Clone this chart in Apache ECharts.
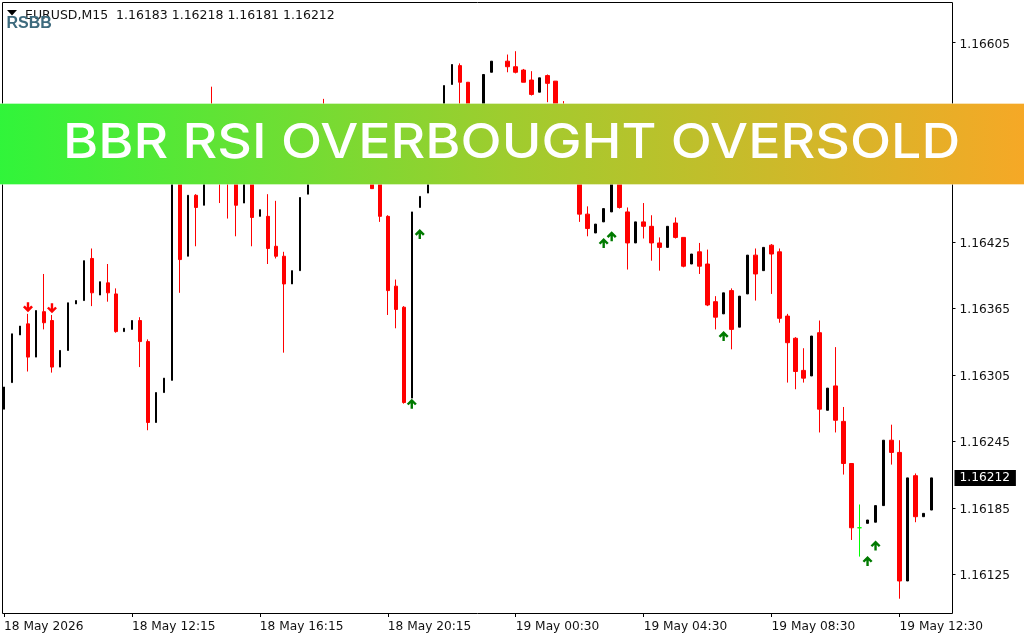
<!DOCTYPE html>
<html lang="en">
<head>
	<meta charset="UTF-8">
	<title>EURUSD M15</title>
	<script src="https://cdn.jsdelivr.net/npm/echarts@6/dist/echarts.min.js"></script>
	<style>
		html,body{height:100%;margin:0;background:#fff;}
	</style>
</head>
<body>
	<div id="chart" style="width:1024px; height:640px;"></div>
<script>
	var tickLabels=['18 May 2026','18 May 12:15','18 May 16:15','18 May 20:15','19 May 00:30','19 May 04:30','19 May 08:30','19 May 12:30'];
	var priceTicks=[1.16605,1.16545,1.16485,1.16425,1.16365,1.16305,1.16245,1.16185,1.16125];
	var lastPrice=1.16212;

	// bars, the ones behind the banner are guessed. black bars show no wick so high/low is null
	var opens=[
		1.16274,1.16298,1.16341,1.16351,1.16321,1.16362,1.16354,1.16312,1.16327,1.16369,
		1.16372,1.16410,1.16377,1.16388,1.16378,1.16344,1.16346,1.16354,1.16335,1.16262,
		1.16289,1.16300,1.16508,1.16412,1.16467,1.16458,1.16530,1.16526,1.16517,1.16508,
		1.16460,1.16499,1.16448,1.16448,1.16421,1.16412,1.16387,1.16399,1.16468,1.16490,
		1.16517,1.16494,1.16512,1.16530,1.16508,1.16494,1.16482,1.16485,1.16448,1.16385,
		1.16366,1.16284,1.16456,1.16469,1.16494,1.16530,1.16567,1.16584,1.16569,1.16530,
		1.16544,1.16578,null,1.16588,1.16583,1.16580,1.16571,1.16560,1.16575,1.16570,
		1.16517,1.16499,1.16481,1.16450,1.16433,1.16443,1.16452,1.16490,1.16452,1.16424,
		1.16443,1.16439,1.16424,1.16420,1.16442,1.16429,1.16405,1.16416,1.16405,1.16371,
		1.16360,1.16381,1.16348,1.16378,1.16413,1.16399,1.16422,1.16416,1.16358,1.16338,
		1.16309,1.16304,1.16343,1.16273,1.16295,1.16263,1.16225,1.16167,1.16171,1.16172,
		1.16187,1.16246,1.16235,1.16119,1.16214,1.16177,1.16183
	];
	var closes=[
		1.16294,1.16342,1.16349,1.16321,1.16363,1.16352,1.16312,1.16327,1.16370,1.16372,
		1.16408,1.16379,1.16389,1.16379,1.16344,1.16347,1.16354,1.16335,1.16262,1.16289,
		1.16302,1.16508,1.16409,1.16467,1.16456,1.16490,1.16494,1.16490,1.16485,1.16458,
		1.16494,1.16447,1.16454,1.16419,1.16412,1.16387,1.16399,1.16465,1.16490,1.16508,
		1.16494,1.16512,1.16530,1.16508,1.16494,1.16482,1.16473,1.16448,1.16381,1.16364,
		1.16280,1.16452,1.16466,1.16494,1.16530,1.16566,1.16585,1.16569,1.16530,1.16544,
		1.16576,1.16588,null,1.16583,1.16578,1.16569,1.16558,1.16573,1.16568,1.16517,
		1.16499,1.16481,1.16450,1.16437,1.16441,1.16455,1.16490,1.16456,1.16424,1.16443,
		1.16439,1.16424,1.16420,1.16439,1.16429,1.16403,1.16414,1.16403,1.16368,1.16357,
		1.16379,1.16346,1.16376,1.16413,1.16396,1.16420,1.16414,1.16356,1.16334,1.16308,
		1.16302,1.16340,1.16274,1.16293,1.16264,1.16225,1.16167,1.16167,1.16174,1.16187,
		1.16246,1.16235,1.16119,1.16212,1.16177,1.16180,1.16212
	];
	var highs=[
		null,null,null,1.16360,null,1.16396,1.16359,null,null,null,
		null,1.16419,null,1.16405,1.16383,null,null,1.16357,1.16337,null,
		null,null,1.16513,null,1.16468,null,1.16565,1.16530,1.16526,1.16512,
		null,1.16503,null,1.16468,1.16462,1.16416,null,null,null,null,
		1.16554,null,null,1.16535,1.16512,1.16498,1.16485,1.16487,1.16449,1.16391,
		1.16367,null,null,null,null,null,null,1.16586,1.16569,null,
		null,null,null,1.16594,1.16597,1.16581,1.16579,null,1.16576,1.16570,
		1.16552,1.16499,1.16481,1.16457,null,null,null,1.16492,1.16456,null,
		1.16460,1.16449,1.16429,null,1.16447,1.16429,null,1.16424,1.16418,1.16376,
		null,1.16383,null,null,1.16419,null,1.16423,1.16419,1.16360,1.16339,
		1.16329,null,1.16354,null,1.16330,1.16276,1.16225,1.16188,null,null,
		null,1.16260,1.16246,null,1.16216,null,null
	];
	var lows=[
		null,null,null,1.16308,null,1.16346,1.16307,null,null,null,
		null,1.16367,null,1.16371,1.16343,null,null,1.16312,1.16255,null,
		null,null,1.16379,null,1.16421,null,1.16483,1.16460,1.16446,1.16430,
		null,1.16421,null,1.16405,1.16410,1.16325,null,null,null,null,
		1.16485,null,null,1.16505,1.16490,1.16480,1.16473,1.16443,1.16359,1.16347,
		1.16279,null,null,null,null,null,null,1.16508,1.16530,null,
		null,null,null,1.16578,1.16577,1.16569,1.16557,null,1.16551,1.16517,
		1.16490,1.16481,1.16443,1.16430,null,null,null,1.16455,1.16400,null,
		1.16428,1.16408,1.16399,null,1.16428,1.16402,null,1.16396,1.16367,1.16346,
		null,1.16328,null,null,1.16372,null,1.16378,1.16352,1.16298,1.16292,
		1.16298,null,1.16253,null,1.16253,1.16215,1.16156,1.16141,null,null,
		null,1.16224,1.16103,null,1.16172,null,null
	];
	// the one green doji on the chart
	var dojiIndex=107;
	// arrows: bar index and price
	var upSignals=[[51,1.16279],[52,1.16432],[75,1.16424],[76,1.16430],[90,1.16340],[108,1.16137],[109,1.16151]];
	var downSignals=[[3,1.16366],[6,1.16365]];

	var barCount=119;
	var categories=[];
	var empty=['-','-','-','-'];
	var bearData=[],bullData=[],dojiData=[];
	for (var i = 0; i < barCount; i++) {
		categories.push(i%16==0 ? tickLabels[i/16] : '');
		var bear=empty,bull=empty,doji=empty;
		if(opens[i]!=null){
			if(i==dojiIndex){
				doji=[opens[i],closes[i],lows[i],highs[i]];
			}else if(highs[i]==null){
				bull=[opens[i],closes[i],Math.min(opens[i],closes[i]),Math.max(opens[i],closes[i])];
			}else{
				bear=[opens[i],closes[i],lows[i],highs[i]];
			}
		}
		bearData.push(bear);
		bullData.push(bull);
		dojiData.push(doji);
	};

	var arrowUp='path://M5 0L10 5L8.2 6.6L6.2 4.6L6.2 10L3.8 10L3.8 4.6L1.8 6.6L0 5Z';
	var arrowDown='path://M5 10L10 5L8.2 3.4L6.2 5.4L6.2 0L3.8 0L3.8 5.4L1.8 3.4L0 5Z';
	var font='"DejaVu Sans"';

	var option={
		animation:false,
		grid:{left:-0.5,top:3,width:952,height:610,show:false},
		xAxis:{
			type:'category',
			data:categories,
			boundaryGap:true,
			axisLine:{show:false},
			axisTick:{show:true,alignWithLabel:true,interval:15,length:4,lineStyle:{color:'#000',width:1}},
			axisLabel:{show:true,interval:15,align:'left',margin:8,color:'#111',fontFamily:font,fontSize:12.2,hideOverlap:false},
			splitLine:{show:false}
		},
		yAxis:[{
			type:'value',
			position:'right',
			offset:1,
			min:1.160901,
			max:1.166405,
			scale:true,
			axisLine:{show:false},
			axisTick:{show:true,length:3,customValues:priceTicks,lineStyle:{color:'#000',width:1}},
			axisLabel:{show:true,margin:7,color:'#111',fontFamily:font,fontSize:12.2,verticalAlign:'top',lineHeight:4,customValues:priceTicks,
				formatter:function(v){return v.toFixed(5)}},
			splitLine:{show:false}
		},{
			// second axis on the same scale, only for the current price box
			type:'value',
			position:'right',
			offset:1,
			min:1.160901,
			max:1.166405,
			scale:true,
			axisLine:{show:false},
			axisTick:{show:false},
			axisLabel:{show:true,margin:2,color:'#fff',backgroundColor:'#000',padding:[3,6,1,5],fontFamily:font,fontSize:12.2,customValues:[lastPrice],
				formatter:function(v){return v.toFixed(5)}},
			splitLine:{show:false}
		}],
		series:[{
			name:'bear',
			type:'candlestick',
			barWidth:4,
			itemStyle:{color:'#f00',color0:'#f00',borderColor:'#f00',borderColor0:'#f00',borderWidth:1},
			data:bearData
		},{
			name:'bull',
			type:'candlestick',
			barWidth:2,
			itemStyle:{color:'#000',color0:'#000',borderColor:'#000',borderColor0:'#000',borderWidth:1},
			data:bullData
		},{
			name:'doji',
			type:'candlestick',
			barWidth:4,
			itemStyle:{color:'#0f0',color0:'#0f0',borderColor:'#0f0',borderColor0:'#0f0',borderWidth:1},
			data:dojiData
		},{
			name:'up',
			type:'scatter',
			symbol:arrowUp,
			symbolSize:10,
			itemStyle:{color:'#007a00',opacity:1},
			data:upSignals
		},{
			name:'down',
			type:'scatter',
			symbol:arrowDown,
			symbolSize:10,
			itemStyle:{color:'#f00',opacity:1},
			data:downSignals
		}],
		graphic:[
			{type:'rect',z:50,shape:{x:2.5,y:2.5,width:950,height:611},style:{fill:'none',stroke:'#000',lineWidth:1}},
			{type:'polygon',z:51,shape:{points:[[7,10],[17,10],[12,15.5]]},style:{fill:'#000'}},
			{type:'text',z:51,x:25,y:9,style:{text:'EURUSD,M15  1.16183 1.16218 1.16181 1.16212',fill:'#111',font:'12.5px '+font}},
			{type:'text',z:52,x:6.5,y:15.5,style:{text:'RSBB',fill:'#3d6a7d',font:'bold 16px "Liberation Sans"'}},
			{type:'rect',z:60,shape:{x:-2,y:103.5,width:1028,height:81},style:{
				stroke:'rgba(255,255,255,0.35)',lineWidth:1,
				fill:new echarts.graphic.LinearGradient(0,0,1,0,[
					{offset:0,color:'#30f53a'},
					{offset:0.5,color:'#a0cc2e'},
					{offset:1,color:'#f6a826'}
				])
			}},
			{type:'text',z:61,x:63,y:143.5,scaleX:1.118,style:{
				text:'BBR RSI OVERBOUGHT OVERSOLD',fill:'#fff',font:'500 48px Inter',verticalAlign:'middle'
			}}
		]
	};
	var myChart=echarts.init(document.getElementById('chart'));
	myChart.setOption(option);
</script>
</body>
</html>
